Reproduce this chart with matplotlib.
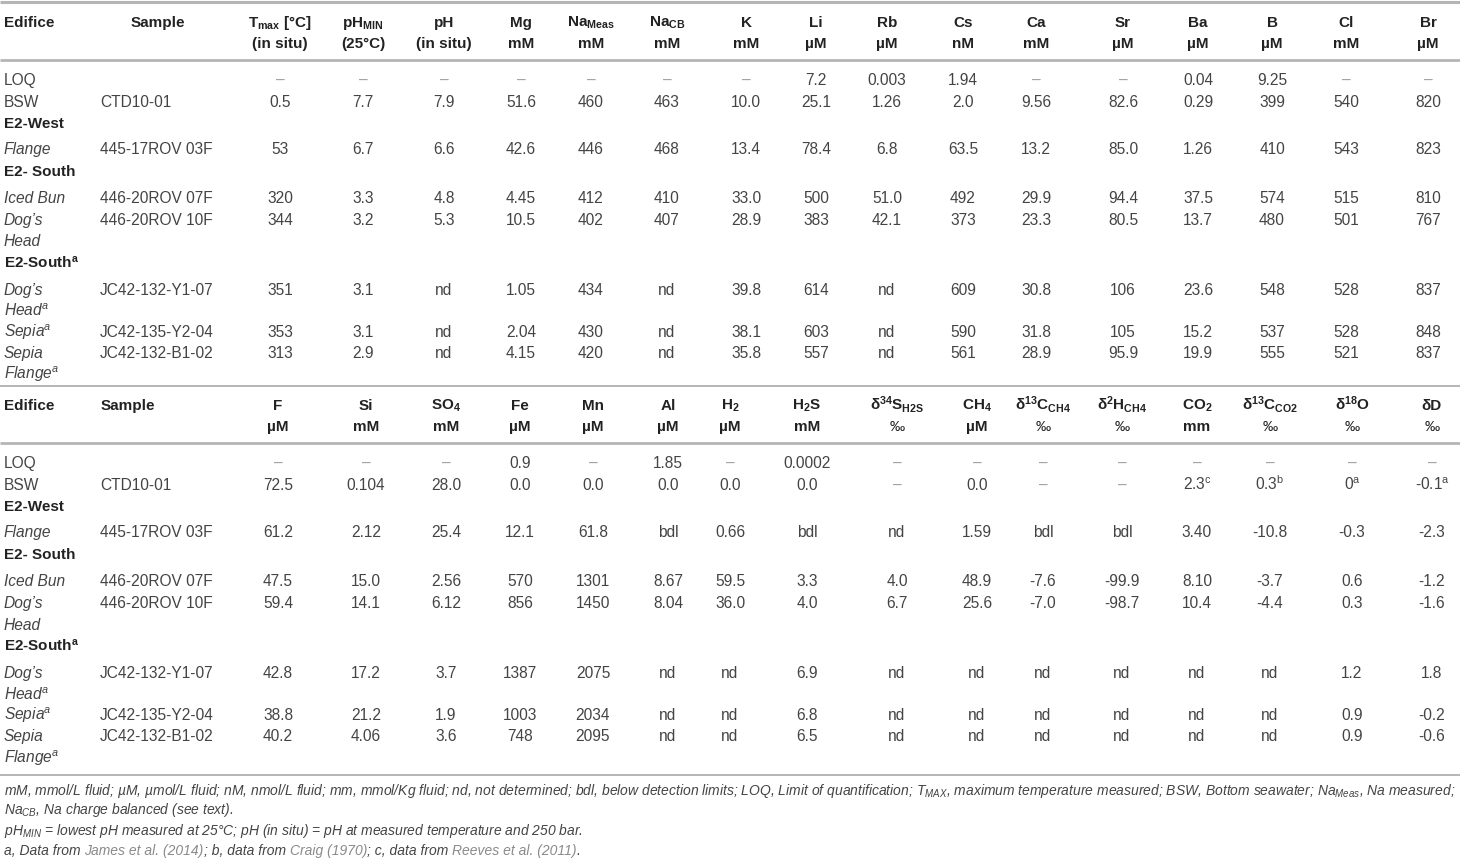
import matplotlib
matplotlib.use("Agg")
import matplotlib.pyplot as plt

plt.rcParams['font.family'] = ['Liberation Sans', 'DejaVu Sans']
plt.rcParams['mathtext.default'] = 'regular'

# ---------------- data ----------------
edifice = ["LOQ", "BSW", "E2-West", "Flange", "E2- South", "Iced Bun", "Dog’s\nHead",
           "E2-South$^a$", "Dog’s\nHead$^a$", "Sepia$^a$", "Sepia\nFlange$^a$"]
row_kind = ["plain", "plain", "group", "site", "group", "site", "site",
            "group", "site", "site", "site"]
samples = ["", "CTD10-01", "", "445-17ROV 03F", "", "446-20ROV 07F", "446-20ROV 10F",
           "", "JC42-132-Y1-07", "JC42-135-Y2-04", "JC42-132-B1-02"]

head1_top = ["T$_{max}$ [°C]", "pH$_{MIN}$", "pH", "Mg", "Na$_{Meas}$", "Na$_{CB}$", "K", "Li",
             "Rb", "Cs", "Ca", "Sr", "Ba", "B", "Cl", "Br"]
head1_bot = ["(in situ)", "(25°C)", "(in situ)", "mM", "mM", "mM", "mM", "µM",
             "µM", "nM", "mM", "µM", "µM", "µM", "mM", "µM"]
table1 = {
    "LOQ":       ["–", "–", "–", "–", "–", "–", "–", "7.2", "0.003", "1.94", "–", "–", "0.04", "9.25", "–", "–"],
    "BSW":       ["0.5", "7.7", "7.9", "51.6", "460", "463", "10.0", "25.1", "1.26", "2.0", "9.56", "82.6", "0.29", "399", "540", "820"],
    "Flange":    ["53", "6.7", "6.6", "42.6", "446", "468", "13.4", "78.4", "6.8", "63.5", "13.2", "85.0", "1.26", "410", "543", "823"],
    "IcedBun":   ["320", "3.3", "4.8", "4.45", "412", "410", "33.0", "500", "51.0", "492", "29.9", "94.4", "37.5", "574", "515", "810"],
    "DogsHead":  ["344", "3.2", "5.3", "10.5", "402", "407", "28.9", "383", "42.1", "373", "23.3", "80.5", "13.7", "480", "501", "767"],
    "DogsHeadA": ["351", "3.1", "nd", "1.05", "434", "nd", "39.8", "614", "nd", "609", "30.8", "106", "23.6", "548", "528", "837"],
    "SepiaA":    ["353", "3.1", "nd", "2.04", "430", "nd", "38.1", "603", "nd", "590", "31.8", "105", "15.2", "537", "528", "848"],
    "SepiaFlA":  ["313", "2.9", "nd", "4.15", "420", "nd", "35.8", "557", "nd", "561", "28.9", "95.9", "19.9", "555", "521", "837"],
}

head2_top = ["F", "Si", "SO$_4$", "Fe", "Mn", "Al", "H$_2$", "H$_2$S", "δ$^{34}$S$_{H2S}$", "CH$_4$",
             "δ$^{13}$C$_{CH4}$", "δ$^2$H$_{CH4}$", "CO$_2$", "δ$^{13}$C$_{CO2}$", "δ$^{18}$O", "δD"]
head2_bot = ["µM", "mM", "mM", "µM", "µM", "µM", "µM", "mM", "‰", "µM", "‰", "‰", "mm", "‰", "‰", "‰"]
table2 = {
    "LOQ":       ["–", "–", "–", "0.9", "–", "1.85", "–", "0.0002", "–", "–", "–", "–", "–", "–", "–", "–"],
    "BSW":       ["72.5", "0.104", "28.0", "0.0", "0.0", "0.0", "0.0", "0.0", "–", "0.0", "–", "–", "2.3$^c$", "0.3$^b$", "0$^a$", "-0.1$^a$"],
    "Flange":    ["61.2", "2.12", "25.4", "12.1", "61.8", "bdl", "0.66", "bdl", "nd", "1.59", "bdl", "bdl", "3.40", "-10.8", "-0.3", "-2.3"],
    "IcedBun":   ["47.5", "15.0", "2.56", "570", "1301", "8.67", "59.5", "3.3", "4.0", "48.9", "-7.6", "-99.9", "8.10", "-3.7", "0.6", "-1.2"],
    "DogsHead":  ["59.4", "14.1", "6.12", "856", "1450", "8.04", "36.0", "4.0", "6.7", "25.6", "-7.0", "-98.7", "10.4", "-4.4", "0.3", "-1.6"],
    "DogsHeadA": ["42.8", "17.2", "3.7", "1387", "2075", "nd", "nd", "6.9", "nd", "nd", "nd", "nd", "nd", "nd", "1.2", "1.8"],
    "SepiaA":    ["38.8", "21.2", "1.9", "1003", "2034", "nd", "nd", "6.8", "nd", "nd", "nd", "nd", "nd", "nd", "0.9", "-0.2"],
    "SepiaFlA":  ["40.2", "4.06", "3.6", "748", "2095", "nd", "nd", "6.5", "nd", "nd", "nd", "nd", "nd", "nd", "0.9", "-0.6"],
}
row_keys = ["LOQ", "BSW", None, "Flange", None, "IcedBun", "DogsHead", None,
            "DogsHeadA", "SepiaA", "SepiaFlA"]

foot1 = ("mM, mmol/L fluid; µM, µmol/L fluid; nM, nmol/L fluid; mm, mmol/Kg fluid; nd, not determined; "
         "bdl, below detection limits; LOQ, Limit of quantification; T$_{MAX}$, maximum temperature measured; "
         "BSW, Bottom seawater; Na$_{Meas}$, Na measured;")
foot2 = "Na$_{CB}$, Na charge balanced (see text)."
foot3 = "pH$_{MIN}$ = lowest pH measured at 25°C; pH (in situ) = pH at measured temperature and 250 bar."
foot4 = [("a, Data from ", False), ("James et al. (2014)", True), ("; b, data from ", False),
         ("Craig (1970)", True), ("; c, data from ", False), ("Reeves et al. (2011)", True), (".", False)]

# ---------------- layout ----------------
W, H = 1460, 859
col1_x = [280, 363, 444, 521, 591, 667, 746, 816, 887, 963, 1036, 1123, 1198, 1272, 1346, 1428]
col2_x = [278, 366, 446, 520, 593, 668, 730, 807, 897, 977, 1043, 1122, 1197, 1270, 1352, 1432]
row_y = [80, 102, 123, 149, 171, 198, 220, 263, 290, 332, 353]   # first line centre of each row
line_step = 21.5
offset2 = 383
FS = 11.2
HFS = 11
TXT = "#444444"
HDR = "#222222"
DASH = "#a0a0a0"
LINE = "#b5b5b5"
BASE = 5.0   # centre -> baseline

fig = plt.figure(figsize=(W / 100, H / 100), dpi=100)
ax = fig.add_axes([0, 0, 1, 1])
ax.set_xlim(0, W)
ax.set_ylim(H, 0)
ax.axis("off")


def put(x, y, s, ha="center", **kw):
    kw.setdefault("color", TXT)
    kw.setdefault("fontsize", FS)
    ax.text(x, y + BASE, s, ha=ha, va="baseline", **kw)


def draw_table(dy, htop, hbot, cols, data, sample_centered):
    # header
    put(4, 22 + dy, "Edifice", ha="left", fontweight="bold", color=HDR, fontsize=HFS)
    if sample_centered:
        put(158, 22 + dy, "Sample", fontweight="bold", color=HDR, fontsize=HFS)
    else:
        put(101, 22 + dy, "Sample", ha="left", fontweight="bold", color=HDR, fontsize=HFS)
    for x, t, b in zip(cols, htop, hbot):
        put(x, 22 + dy, t, fontweight="bold", color=HDR, fontsize=HFS)
        put(x, 43 + dy, b, fontweight="normal" if b == "‰" else "bold", color=HDR, fontsize=HFS)
    # rows
    for name, kind, smp, key, y in zip(edifice, row_kind, samples, row_keys, row_y):
        yy = y + dy
        lines = name.split("\n")
        for i, ln in enumerate(lines):
            if kind == "group":
                put(4, yy + i * line_step, ln, ha="left", fontweight="bold", color=HDR, fontsize=HFS)
            elif kind == "site":
                put(4, yy + i * line_step, ln, ha="left", style="italic")
            else:
                put(4, yy + i * line_step, ln, ha="left")
        if smp:
            put(100, yy, smp, ha="left")
        if key is not None:
            for x, v in zip(cols, data[key]):
                put(x, yy, v, color=DASH if v == "–" else TXT)


draw_table(0, head1_top, head1_bot, col1_x, table1, True)
draw_table(offset2, head2_top, head2_bot, col2_x, table2, False)

# rules
for y, lw in [(1.5, 2.2), (60, 2.0), (386, 1.4), (60 + offset2, 2.0), (775, 1.4)]:
    ax.plot([0, W], [y, y], color=LINE, lw=lw, solid_capstyle="butt")

# footnotes
fig.canvas.draw()
rend = fig.canvas.get_renderer()
t1 = ax.text(4, 795, foot1, ha="left", va="baseline", style="italic", fontsize=10, color=TXT)
w = t1.get_window_extent(rend).width
FFS = 10 * 1452 / w
t1.set_fontsize(FFS)
put(4, 810 - BASE + 4, foot2, ha="left", style="italic", fontsize=FFS)
put(4, 831 - BASE + 4, foot3, ha="left", style="italic", fontsize=FFS)

x = 4
inv = ax.transData.inverted()
for seg, link in foot4:
    t = ax.text(x, 855, seg, ha="left", va="baseline", style="italic", fontsize=FFS,
                color="#8a8a8a" if link else TXT)
    bb = t.get_window_extent(rend)
    x = inv.transform((bb.x1, bb.y0))[0]

fig.savefig("out.png", dpi=100)
